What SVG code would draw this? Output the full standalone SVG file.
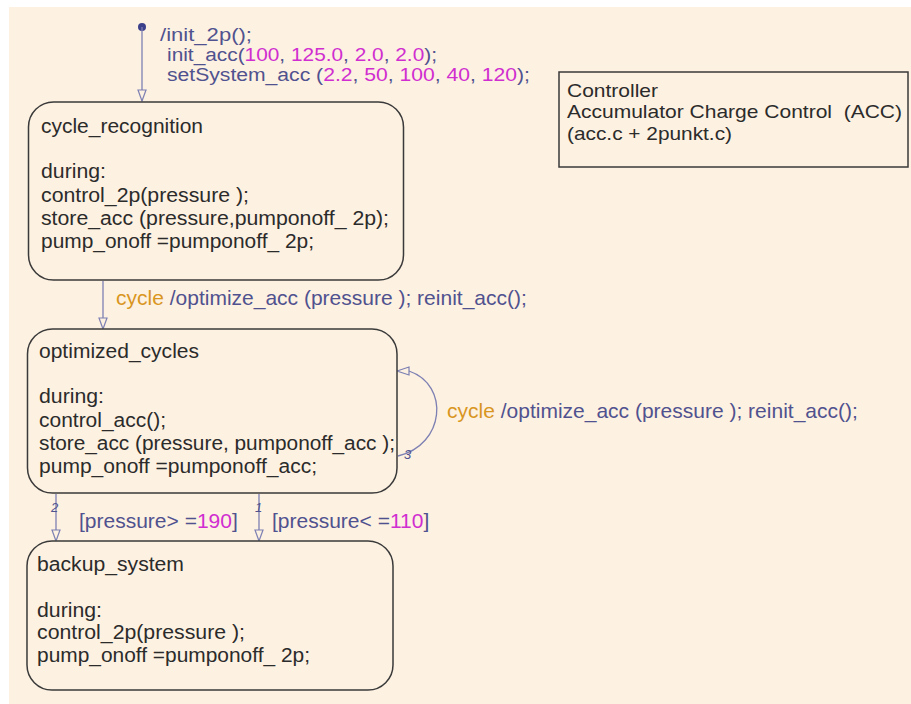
<svg xmlns="http://www.w3.org/2000/svg" width="911" height="704" viewBox="0 0 911 704">
<defs>
<style>
.bg{fill:#fdf1e1}
.state{fill:#fdf1e1;stroke:#3a3a3a;stroke-width:1.5}
.t{font-family:"Liberation Sans",Arial,sans-serif;font-size:20px;fill:#2b2b2b;white-space:pre}
.n{font-family:"Liberation Sans",Arial,sans-serif;font-size:19px;fill:#2b2b2b;white-space:pre}
.lbl{font-family:"Liberation Sans",Arial,sans-serif;font-size:21px;fill:#50528f;white-space:pre}
.ini{font-family:"Liberation Sans",Arial,sans-serif;font-size:18px;fill:#50528f;white-space:pre}
.num{fill:#d02ed0}
.ev{fill:#d9961f}
.ord{font-family:"Liberation Sans",Arial,sans-serif;font-size:13px;font-style:italic;fill:#50528f}
.conn{fill:none;stroke:#7d80b3;stroke-width:1.3}
.head{fill:#fdf1e1;stroke:#7d80b3;stroke-width:1.2}
</style>
</defs>
<rect x="0" y="0" width="911" height="704" fill="#ffffff"/>
<rect class="bg" x="9" y="7" width="902" height="697"/>

<g id="connectors">
  <circle cx="142" cy="27" r="4" fill="#3c3f8a"/>
  <line class="conn" x1="142" y1="27" x2="142" y2="101"/>
  <polygon class="head" points="138,90 146,90 142,101"/>
  <text class="ini" x="160" y="41" textLength="92" lengthAdjust="spacingAndGlyphs">/init_2p();</text>
  <text class="ini" x="167" y="61" textLength="270" lengthAdjust="spacingAndGlyphs">init_acc(<tspan class="num">100</tspan>, <tspan class="num">125.0</tspan>, <tspan class="num">2.0</tspan>, <tspan class="num">2.0</tspan>);</text>
  <text class="ini" x="167" y="81" textLength="363" lengthAdjust="spacingAndGlyphs">setSystem_acc (<tspan class="num">2.2</tspan>, <tspan class="num">50</tspan>, <tspan class="num">100</tspan>, <tspan class="num">40</tspan>, <tspan class="num">120</tspan>);</text>

  <line class="conn" x1="103" y1="281" x2="103" y2="328"/>
  <polygon class="head" points="99,318 107,318 103,329"/>
  <text class="lbl" x="116" y="305"><tspan class="ev">cycle</tspan> /optimize_acc (pressure ); reinit_acc();</text>

  <path class="conn" d="M398,456 C445,445 450,385 409,371"/>
  <polygon class="head" points="397,371 409,367 409,375"/>
  <text class="ord" x="404" y="459">3</text>
  <text class="lbl" x="447" y="418"><tspan class="ev">cycle</tspan> /optimize_acc (pressure ); reinit_acc();</text>

  <line class="conn" x1="56" y1="494" x2="56" y2="540"/>
  <polygon class="head" points="52,530 60,530 56,541"/>
  <text class="ord" x="51" y="512">2</text>
  <text class="lbl" x="79" y="528">[pressure&gt; =<tspan class="num">190</tspan>]</text>

  <line class="conn" x1="259" y1="494" x2="259" y2="540"/>
  <polygon class="head" points="255,530 263,530 259,541"/>
  <text class="ord" x="255" y="512">1</text>
  <text class="lbl" x="272" y="528">[pressure&lt; =<tspan class="num">110</tspan>]</text>
</g>

<g id="cycle_recognition">
  <rect class="state" x="28.5" y="102" width="375" height="178" rx="25" ry="25"/>
  <text class="t" x="41" y="133" textLength="162" lengthAdjust="spacingAndGlyphs">cycle_recognition</text>
  <text class="t" x="41" y="178" textLength="65" lengthAdjust="spacingAndGlyphs">during:</text>
  <text class="t" x="41" y="202" textLength="208" lengthAdjust="spacingAndGlyphs">control_2p(pressure );</text>
  <text class="t" x="41" y="225" textLength="348" lengthAdjust="spacingAndGlyphs">store_acc (pressure,pumponoff_ 2p);</text>
  <text class="t" x="41" y="248" textLength="273" lengthAdjust="spacingAndGlyphs">pump_onoff =pumponoff_ 2p;</text>
</g>

<g id="optimized_cycles">
  <rect class="state" x="27.5" y="329" width="369.5" height="164" rx="25" ry="25"/>
  <text class="t" x="39" y="358" textLength="160" lengthAdjust="spacingAndGlyphs">optimized_cycles</text>
  <text class="t" x="39" y="403" textLength="65" lengthAdjust="spacingAndGlyphs">during:</text>
  <text class="t" x="39" y="427" textLength="127" lengthAdjust="spacingAndGlyphs">control_acc();</text>
  <text class="t" x="39" y="450" textLength="356" lengthAdjust="spacingAndGlyphs">store_acc (pressure, pumponoff_acc );</text>
  <text class="t" x="39" y="473" textLength="278" lengthAdjust="spacingAndGlyphs">pump_onoff =pumponoff_acc;</text>
</g>

<g id="backup_system">
  <rect class="state" x="27" y="541" width="366" height="149" rx="25" ry="25"/>
  <text class="t" x="37" y="571" textLength="147" lengthAdjust="spacingAndGlyphs">backup_system</text>
  <text class="t" x="37" y="617" textLength="65" lengthAdjust="spacingAndGlyphs">during:</text>
  <text class="t" x="37" y="639" textLength="208" lengthAdjust="spacingAndGlyphs">control_2p(pressure );</text>
  <text class="t" x="37" y="662" textLength="273" lengthAdjust="spacingAndGlyphs">pump_onoff =pumponoff_ 2p;</text>
</g>

<g id="controller_note">
  <rect x="559" y="72" width="349" height="95" fill="none" stroke="#3a3a3a" stroke-width="1.5"/>
  <text class="n" x="567" y="97" textLength="91" lengthAdjust="spacingAndGlyphs">Controller</text>
  <text class="n" x="567" y="118" textLength="335" lengthAdjust="spacingAndGlyphs">Accumulator Charge Control  (ACC)</text>
  <text class="n" x="567" y="140" textLength="165" lengthAdjust="spacingAndGlyphs">(acc.c + 2punkt.c)</text>
</g>
</svg>
